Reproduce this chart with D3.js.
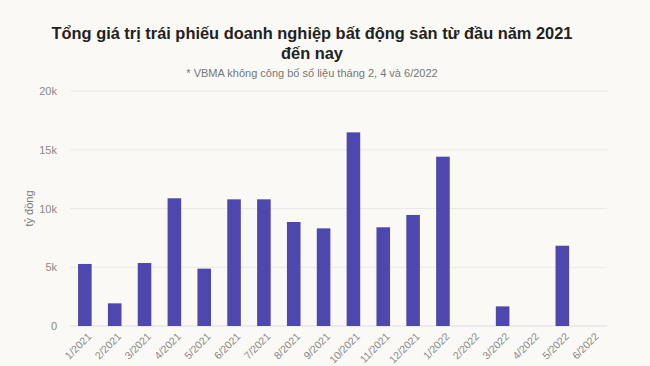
<!DOCTYPE html>
<html><head><meta charset="utf-8">
<script src="https://cdn.jsdelivr.net/npm/d3@7/dist/d3.min.js"></script>
<style>
html,body{margin:0;padding:0;background:#faf9f6;}
svg{display:block;font-family:"Liberation Sans",Arial,sans-serif;}
</style></head><body>
<svg id="c" width="650" height="366"></svg>
<script>
const categories = ["1/2021","2/2021","3/2021","4/2021","5/2021","6/2021","7/2021","8/2021","9/2021","10/2021","11/2021","12/2021","1/2022","2/2022","3/2022","4/2022","5/2022","6/2022"];
const values = [5280,1930,5360,10870,4880,10780,10780,8850,8310,16480,8400,9450,14410,null,1670,null,6830,null];
const yTicks = [0,5000,10000,15000,20000];
const yTickLabels = ["0","5k","10k","15k","20k"];
const titleLines = ["Tổng giá trị trái phiếu doanh nghiệp bất động sản từ đầu năm 2021","đến nay"];
const subtitle = "* VBMA không công bố số liệu tháng 2, 4 và 6/2022";
const yLabel = "tỷ đồng";

(function(){
const svg = d3.select("#c");
const mLeft = 70, mRight = 607, mTop = 91, mBottom = 326;
const x = d3.scaleBand().domain(categories).range([mLeft, mRight]).paddingInner(0.545).paddingOuter(0.27);
const y = d3.scaleLinear().domain([0,20000]).range([mBottom, mTop]);

svg.selectAll("text.title").data(titleLines).enter().append("text")
  .attr("class","title").attr("x",312).attr("y",(d,i)=>39+i*20)
  .attr("text-anchor","middle").attr("font-size",16.4).attr("font-weight","bold").attr("fill","#222")
  .text(d=>d);
svg.append("text").attr("x",312).attr("y",77).attr("text-anchor","middle")
  .attr("font-size",11).attr("fill","#777").text(subtitle);

svg.append("g").selectAll("line").data(yTicks).enter().append("line")
  .attr("x1",mLeft).attr("x2",mRight).attr("y1",d=>y(d)).attr("y2",d=>y(d))
  .attr("stroke",(d)=>d===0?"#dcdce6":"#ebe9e6").attr("stroke-width",1);

const ya = svg.append("g").attr("transform",`translate(${mLeft-10},0)`)
  .call(d3.axisLeft(y).tickValues(yTicks).tickSize(0).tickFormat((d,i)=>yTickLabels[i]));
ya.select(".domain").remove();
ya.selectAll("text").attr("fill","#888").attr("font-size",11).attr("font-family","Liberation Sans, Arial, sans-serif");

svg.append("text").attr("transform",`translate(33,${(mTop+mBottom)/2}) rotate(-90)`)
  .attr("text-anchor","middle").attr("font-size",11).attr("fill","#777").text(yLabel);

svg.append("g").selectAll("rect").data(categories.map((c,i)=>({c,v:values[i]})).filter(d=>d.v!=null))
  .enter().append("rect")
  .attr("x",d=>x(d.c)).attr("width",x.bandwidth())
  .attr("y",d=>y(d.v)).attr("height",d=>y(0)-y(d.v))
  .attr("fill","#4e47ae");

const xa = svg.append("g").attr("transform",`translate(0,${mBottom+6})`)
  .call(d3.axisBottom(x).tickSize(0).tickPadding(0));
xa.select(".domain").remove();
xa.selectAll("text").attr("fill","#888").attr("font-size",10.5).attr("font-family","Liberation Sans, Arial, sans-serif")
  .attr("text-anchor","end").attr("dy","0.7em").attr("transform","translate(2,0) rotate(-45)");
})();
</script>
</body></html>
